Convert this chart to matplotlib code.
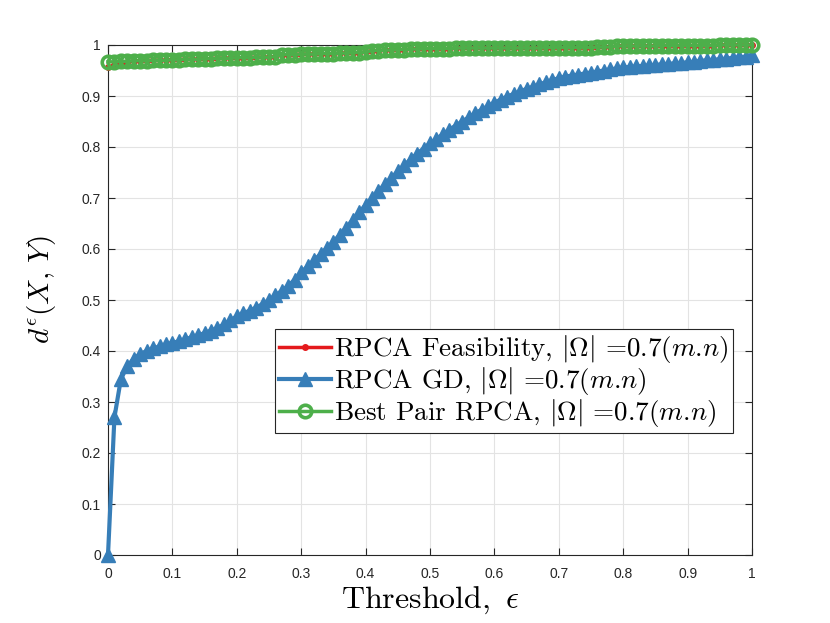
import matplotlib
matplotlib.use("Agg")
import matplotlib.pyplot as plt

plt.rcParams['mathtext.fontset'] = 'cm'
plt.rcParams['font.family'] = ['Liberation Sans', 'DejaVu Sans']

threshold = [i / 100 for i in range(101)]

rpca_gd = [
    0.000, 0.270, 0.345, 0.370, 0.385, 0.394, 0.400, 0.405, 0.409, 0.413,
    0.416, 0.419, 0.423, 0.427, 0.431, 0.435, 0.440, 0.445, 0.452, 0.460,
    0.468, 0.474, 0.479, 0.485, 0.492, 0.500, 0.509, 0.518, 0.528, 0.540,
    0.554, 0.566, 0.578, 0.590, 0.602, 0.614, 0.628, 0.642, 0.657, 0.672,
    0.686, 0.700, 0.714, 0.727, 0.740, 0.752, 0.764, 0.776, 0.787, 0.797,
    0.807, 0.816, 0.825, 0.834, 0.842, 0.850, 0.858, 0.866, 0.873, 0.880,
    0.887, 0.893, 0.899, 0.904, 0.909, 0.914, 0.918, 0.923, 0.927, 0.931,
    0.935, 0.938, 0.940, 0.942, 0.944, 0.946, 0.948, 0.950, 0.952, 0.954,
    0.956, 0.957, 0.958, 0.959, 0.960, 0.961, 0.962, 0.963, 0.964, 0.965,
    0.966, 0.967, 0.969, 0.970, 0.971, 0.972, 0.973, 0.975, 0.976, 0.977,
    0.980,
]

best_pair = [
    0.967, 0.967, 0.968, 0.968, 0.969, 0.969, 0.969, 0.970, 0.970, 0.970,
    0.971, 0.971, 0.972, 0.972, 0.972, 0.973, 0.973, 0.974, 0.974, 0.974,
    0.975, 0.975, 0.975, 0.976, 0.976, 0.976, 0.977, 0.981, 0.981, 0.981,
    0.982, 0.982, 0.982, 0.983, 0.983, 0.983, 0.984, 0.984, 0.985, 0.985,
    0.986, 0.989, 0.989, 0.990, 0.990, 0.991, 0.991, 0.992, 0.992, 0.993,
    0.993, 0.993, 0.993, 0.993, 0.994, 0.994, 0.994, 0.994, 0.994, 0.994,
    0.994, 0.994, 0.994, 0.994, 0.994, 0.994, 0.994, 0.994, 0.995, 0.995,
    0.995, 0.995, 0.995, 0.995, 0.995, 0.995, 0.996, 0.996, 0.996, 0.998,
    0.998, 0.998, 0.998, 0.998, 0.998, 0.998, 0.999, 0.999, 0.999, 0.999,
    0.999, 0.999, 0.999, 0.999, 0.999, 1.000, 1.000, 1.000, 1.000, 1.000,
    1.000,
]

rpca_feas = [0.957, 0.960, 0.963, 0.966] + best_pair[4:]

xticks = [0, 0.1, 0.2, 0.3, 0.4, 0.5, 0.6, 0.7, 0.8, 0.9, 1]
xtick_labels = ['0', '0.1', '0.2', '0.3', '0.4', '0.5', '0.6', '0.7', '0.8', '0.9', '1']
yticks = xticks
ytick_labels = xtick_labels

labels = [
    r'RPCA Feasibility, $|\Omega|$ =0.7($m$.$n$)',
    r'RPCA GD, $|\Omega|$ =0.7($m$.$n$)',
    r'Best Pair RPCA, $|\Omega|$ =0.7($m$.$n$)',
]

RED = '#E41A1C'
BLUE = '#377EB8'
GREEN = '#4DAF4A'

fig = plt.figure(figsize=(8.3, 6.23), dpi=100)
ax = fig.add_axes([108 / 830, 68 / 623, 644 / 830, 510 / 623])

ax.plot(threshold, rpca_feas, color=RED, lw=2.5, marker='o', ms=4,
        mfc=RED, mec=RED, label=labels[0], clip_on=False, zorder=3)
ax.plot(threshold, rpca_gd, color=BLUE, lw=3, marker='^', ms=10.5,
        mfc=BLUE, mec=BLUE, label=labels[1], clip_on=False, zorder=4)
ax.plot(threshold, best_pair, color=GREEN, lw=2.5, marker='o', ms=9,
        mfc='none', mec=GREEN, mew=2.6, label=labels[2], clip_on=False, zorder=5)

ax.set_xlim(0, 1)
ax.set_ylim(0, 1)
ax.set_xticks(xticks)
ax.set_xticklabels(xtick_labels)
ax.set_yticks(yticks)
ax.set_yticklabels(ytick_labels)
ax.grid(True, color='#e3e3e3', lw=0.8)
ax.set_axisbelow(True)
ax.tick_params(direction='in', length=5, width=0.8, top=True, right=True,
               labelsize=10, colors='#262626')
ax.tick_params(axis='x', pad=9)
ax.tick_params(axis='y', pad=5)
for s in ax.spines.values():
    s.set_color('#262626')
    s.set_linewidth(0.8)

ax.set_xlabel(r'$\mathrm{Threshold},\ \epsilon$', fontsize=23, labelpad=2)
ax.set_ylabel(r'$d^{\epsilon}(X,\,Y)$', fontsize=21)
ax.yaxis.set_label_coords(-0.078, 0.52)

leg = ax.legend(loc='lower right', bbox_to_anchor=(0.970, 0.239),
                prop={'family': 'cmr10', 'size': 19.5},
                fancybox=False, framealpha=1, edgecolor='#262626',
                handlelength=1.9, handletextpad=0.12, labelspacing=0.0,
                borderpad=0.15, borderaxespad=0)
leg.get_frame().set_linewidth(0.8)
leg.set_zorder(10)

fig.savefig('out.png', dpi=100)
